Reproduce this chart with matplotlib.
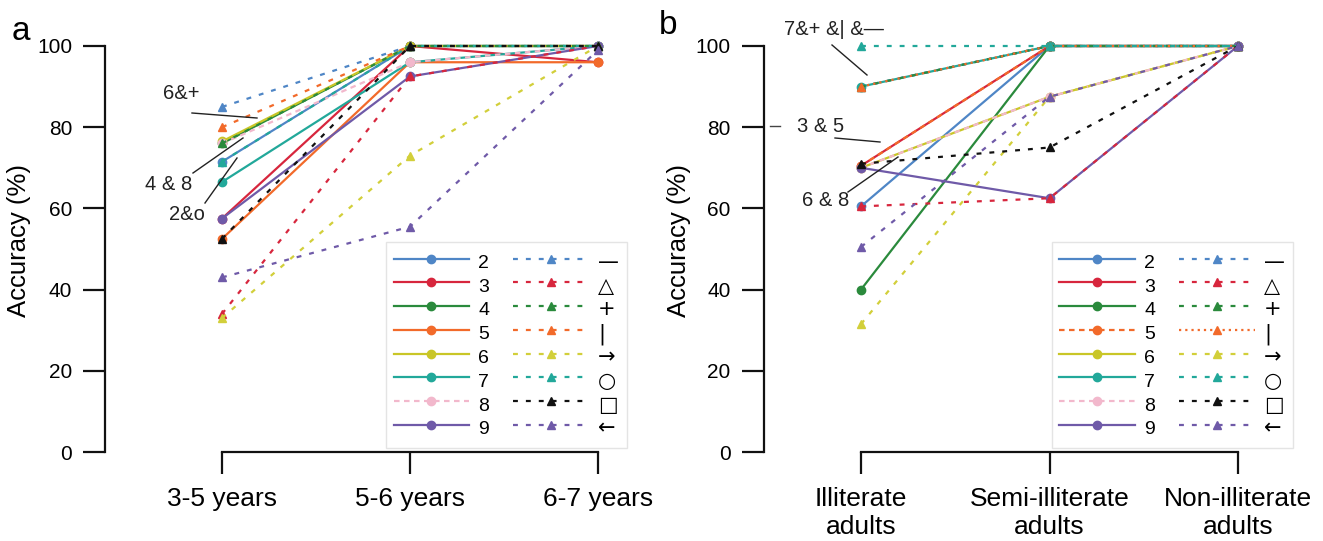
import matplotlib
matplotlib.use("Agg")
import matplotlib.pyplot as plt

plt.rcParams['font.family'] = ['Liberation Sans', 'DejaVu Sans']

# ---------------- data ----------------
groups_a = ["3-5 years", "5-6 years", "6-7 years"]
groups_b = ["Illiterate\nadults", "Semi-illiterate\nadults", "Non-illiterate\nadults"]
numbers = ["2", "3", "4", "5", "6", "7", "8", "9"]
symbols = ["—", "△", "+", "|", "→", "○", "□", "←"]

# panel a: children (solid, circles = numbers; dashed, triangles = symbols)
num_a = [
    [71.5, 100, 100],   # 2
    [57.5, 100, 96],    # 3
    [76, 100, 100],     # 4
    [52.5, 96, 96],     # 5
    [76.5, 100, 100],   # 6
    [66.5, 96, 100],    # 7
    [76, 96, 100],      # 8
    [57.5, 92.5, 100],  # 9
]
sym_a = [
    [85, 100, 100],     # —
    [34, 92.5, 100],    # △
    [76, 100, 100],     # +
    [80, 100, 100],     # |
    [33, 73, 100],      # →
    [71.5, 100, 100],   # ○
    [52.5, 100, 100],   # □
    [43, 55.5, 99],     # ←
]
# panel b: adults
num_b = [
    [60.5, 100, 100],   # 2
    [70.5, 100, 100],   # 3
    [40, 100, 100],     # 4
    [70.5, 100, 100],   # 5
    [70, 87.5, 100],    # 6
    [90, 100, 100],     # 7
    [70, 87.5, 100],    # 8
    [70, 62.5, 100],    # 9
]
sym_b = [
    [90, 100, 100],     # —
    [60.5, 62.5, 100],  # △
    [90, 100, 100],     # +
    [90, 100, 100],     # |
    [31.5, 87.5, 100],  # →
    [100, 100, 100],    # ○
    [71, 75, 100],      # □
    [50.5, 87.5, 100],  # ←
]

# ---------------- styles ----------------
num_colors = ['#4f86c6', '#d7263d', '#2a8a3c', '#f26a2a', '#c9c627', '#22a89a', '#f2b8cc', '#6f5aa8']
sym_colors = ['#4f86c6', '#d7263d', '#2a8a3c', '#f26a2a', '#d2cf3a', '#22a89a', '#111111', '#6f5aa8']

W, H = 1323, 541
fig = plt.figure(figsize=(W / 100, H / 100), dpi=100)

def px_axes(left_px, right_px, top_px, bottom_px):
    return fig.add_axes([left_px / W, 1 - bottom_px / H,
                         (right_px - left_px) / W, (bottom_px - top_px) / H])

ppu = 4.06  # pixels per % unit
y0_px, y100_px = 452, 46
ylo, yhi = -2, 102

def make_panel(x0_px, spacing, xleft, xright, groups, nums, syms, num_styles, sym_styles, leg_x):
    left_px = x0_px + xleft * spacing
    right_px = x0_px + xright * spacing
    top_px = y100_px - (yhi - 100) * ppu
    bot_px = y0_px - ylo * ppu
    ax = px_axes(left_px, right_px, top_px, bot_px)
    ax.set_xlim(xleft, xright)
    ax.set_ylim(ylo, yhi)
    x = list(range(len(groups)))
    handles_n, handles_s = [], []
    for i, vals in enumerate(nums):
        l, = ax.plot(x, vals, color=num_colors[i], lw=1.6, linestyle=num_styles[i],
                     marker='o', ms=6, clip_on=False, zorder=2)
        handles_n.append(l)
    for i, vals in enumerate(syms):
        l, = ax.plot(x, vals, color=sym_colors[i], lw=1.6, linestyle=sym_styles[i],
                     marker='^', ms=5.5, clip_on=False, zorder=3)
        handles_s.append(l)
    for s in ['top', 'right']:
        ax.spines[s].set_visible(False)
    ax.spines['left'].set_bounds(0, 100)
    ax.spines['bottom'].set_position(('data', 0))
    ax.spines['bottom'].set_bounds(0, len(groups) - 1)
    for s in ['left', 'bottom']:
        ax.spines[s].set_linewidth(1.6)
        ax.spines[s].set_color('#111111')
    ax.set_yticks([0, 20, 40, 60, 80, 100])
    ax.set_xticks(x)
    ax.set_xticklabels(groups, fontsize=19, linespacing=1.2)
    ax.tick_params(axis='both', direction='out', length=16, width=1.6, color='#111111',
                   labelsize=15)
    ax.tick_params(axis='x', pad=9, labelsize=19)
    ax.tick_params(axis='y', pad=8)
    ax.set_ylabel("Accuracy (%)", fontsize=18.5)
    ax.patch.set_alpha(0)
    leg = ax.legend(handles_n + handles_s, numbers + symbols, ncol=2,
                    loc='lower left', bbox_to_anchor=(leg_x, 0.006),
                    fontsize=14, handlelength=3.9, handleheight=1.55,
                    handletextpad=0.45, columnspacing=1.25, labelspacing=-0.03,
                    borderpad=0.4, frameon=True, fancybox=False,
                    edgecolor='#e4e4e4', framealpha=1.0)
    leg.get_frame().set_linewidth(1.0)
    texts = leg.get_texts()
    for t in texts[8:]:
        t.set_family(['DejaVu Sans'])
        t.set_fontsize(15)
    return ax

dash = (0, (2.2, 3.6))
dot = (0, (1, 1.8))
pinkdash = (0, (2.5, 2.0))
solid = '-'

num_styles_a = [solid, solid, solid, solid, solid, solid, pinkdash, solid]
sym_styles_a = [dash] * 8
num_styles_b = [solid, solid, solid, pinkdash, solid, solid, pinkdash, solid]
sym_styles_b = [dash, dash, dash, dot, dash, dash, dash, dash]

axa = make_panel(222, 188, -0.62, 2.3, groups_a, num_a, sym_a, num_styles_a, sym_styles_a, 0.493)
axb = make_panel(861, 188.5, -0.515, 2.3, groups_b, num_b, sym_b, num_styles_b, sym_styles_b, 0.524)

axa.yaxis.set_label_coords(-0.135, 0.52)
axb.yaxis.set_label_coords(-0.138, 0.52)

# annotations (pixel positions converted to data coords)
def to_data(ax, px, py):
    inv = ax.transData.inverted()
    return inv.transform((px, H - py))

def annot(ax, text, tpx, tpy, l1, l2, fs=14.5):
    tx, ty = to_data(ax, tpx, tpy)
    ax.text(tx, ty, text, fontsize=fs, ha='center', va='center', color='#222222',
            family=['Liberation Sans', 'DejaVu Sans'])
    a = to_data(ax, *l1)
    b = to_data(ax, *l2)
    ax.plot([a[0], b[0]], [a[1], b[1]], color='#222222', lw=1.0, clip_on=False, zorder=5)

fig.canvas.draw()
annot(axa, "6&+", 181, 94, (192, 113), (257, 118))
annot(axa, "4 & 8", 169, 185, (193, 173), (243, 138))
annot(axa, "2&o", 187, 215, (205, 203), (237, 158))
annot(axb, "7&+ &| &—", 834, 30, (832, 45), (867, 75))
annot(axb, "3 & 5", 821, 127, (835, 138), (880, 142))
annot(axb, "6 & 8", 826, 200, (848, 192), (898, 157))
a = to_data(axb, 770, 126)
b = to_data(axb, 780, 126)
axb.plot([a[0], b[0]], [a[1], b[1]], color='#444444', lw=1.0, clip_on=False)

fig.text(21 / W, 1 - 31 / H, "a", fontsize=24, ha='center', va='center')
fig.text(668 / W, 1 - 26 / H, "b", fontsize=24, ha='center', va='center')

fig.savefig("out.png", dpi=100)
